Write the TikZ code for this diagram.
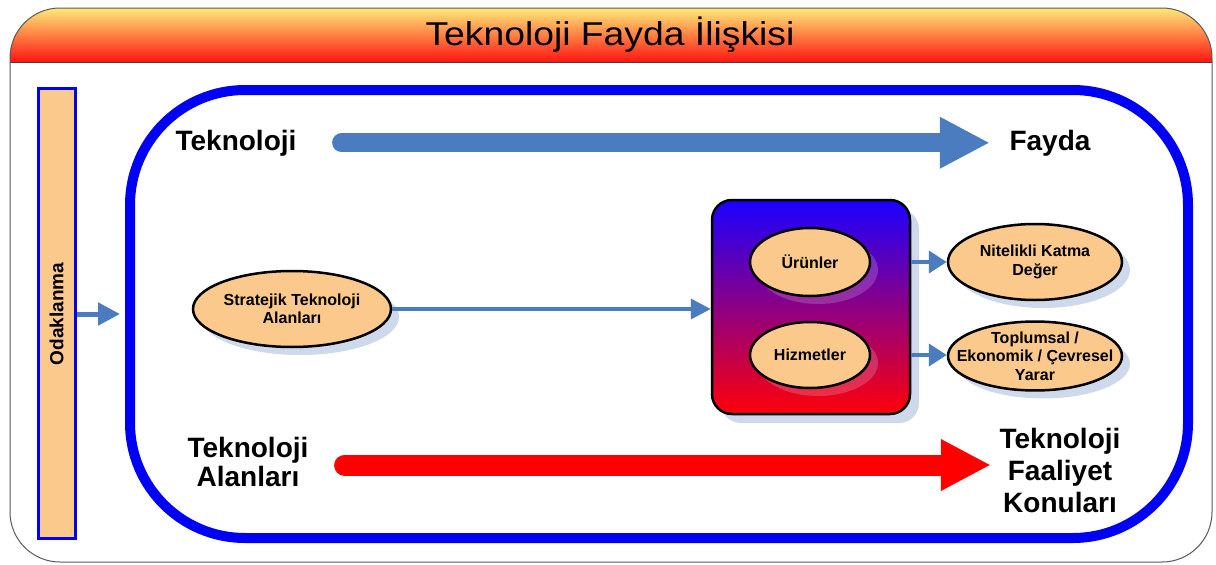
\documentclass[tikz,border=0pt]{standalone}
\usepackage{fontspec}
\setmainfont{Liberation Sans}
\newfontfamily\titlefont[FakeStretch=1.13]{Liberation Sans}
\usetikzlibrary{arrows.meta,shapes.geometric,shadows}

\definecolor{peach}{HTML}{FBC98B}
\definecolor{steel}{HTML}{4A7CBF}
\definecolor{frameblue}{HTML}{0000F5}
\definecolor{shadowblue}{HTML}{C9D6EA}
\definecolor{banneryellow}{HTML}{FFEA78}
\definecolor{bannerorange}{HTML}{FF9C42}
\definecolor{bannerred}{HTML}{FF1410}
\definecolor{boxblue}{HTML}{1A00FF}
\definecolor{boxpurple}{HTML}{840083}
\definecolor{boxred}{HTML}{FF0008}
\definecolor{arrowred}{HTML}{FF0000}

\tikzset{
  ovalbase/.style={ellipse, draw=black, line width=2.5pt, fill=peach, inner sep=0pt,
    align=center, font=\fontsize{16}{18.5}\selectfont\bfseries},
  oval/.style={ovalbase, drop shadow={shadow xshift=8pt, shadow yshift=-8pt, fill=shadowblue, opacity=0.9}},
  inoval/.style={ovalbase, drop shadow={shadow xshift=8pt, shadow yshift=-8pt, fill=white, opacity=0.18}},
  biglabel/.style={font=\fontsize{28}{29}\selectfont\bfseries, align=center, inner sep=0pt},
  link/.style={draw=steel, line width=4pt, -{Triangle[length=18pt,width=22pt]}},
  bigarrow/.style={line width=19pt, line cap=round, -{Triangle[length=50pt,width=48pt]}},
}

\begin{document}
\begin{tikzpicture}[x=1pt,y=-1pt]
\useasboundingbox (0,0) rectangle (1216,565);

% outer panel with gradient title bar
\fill[white, rounded corners=50pt] (10,8) rectangle (1212,562);
\begin{scope}
  \clip[rounded corners=50pt] (10,8) rectangle (1212,562);
  \shade[top color=banneryellow, middle color=bannerorange, bottom color=bannerred]
    (10,8) rectangle (1212,62);
\end{scope}
\draw[black!75, line width=1pt] (10,62) -- (1212,62);
\draw[black!65, line width=1pt, rounded corners=50pt] (10,8) rectangle (1212,562);
\node[font=\titlefont\fontsize{33}{38}\selectfont, anchor=base, inner sep=0pt] (title) at (610,45) {Teknoloji Fayda İlişkisi};

% large blue frame
\node[draw=frameblue, line width=10pt, rounded corners=115pt, minimum width=1058pt,
      minimum height=448pt, inner sep=0pt] (frame) at (659,314) {};

% focus bar
\node[draw=frameblue, line width=3pt, fill=peach, minimum width=37pt, minimum height=450pt,
      inner sep=0pt] (bar) at (56.5,313) {};
\node[rotate=90, font=\fontsize{19}{22}\selectfont\bfseries, inner sep=0pt] (focus) at (56.5,314) {Odaklanma};
\draw[draw=steel, line width=5pt, -{Triangle[length=22pt,width=22pt]}, shorten >=5pt]
  (bar.east |- 0,314) -- (frame.west |- 0,314);

% top and bottom flows
\node[biglabel, anchor=base] (tech) at (236,150) {Teknoloji};
\node[biglabel, anchor=base] (benefit) at (1050,150) {Fayda};
\draw[bigarrow, draw=steel, fill=steel, shorten <=45pt, shorten >=19.5pt] (tech.east) -- (benefit.west);

\node[biglabel] (areas) at (248,462) {Teknoloji\\Alanları};
\node[biglabel, font=\fontsize{28}{32}\selectfont\bfseries] (topics) at (1060,470) {Teknoloji\\Faaliyet\\Konuları};
\draw[bigarrow, line width=21pt, draw=arrowred, fill=arrowred, shorten <=36pt, shorten >=8.5pt]
  (areas.east |- 0,465) -- (topics.west |- 0,465);

% products and services block
\node[draw=black, line width=2.5pt, rounded corners=20pt, minimum width=198pt, minimum height=214pt,
      top color=boxblue, middle color=boxpurple, bottom color=boxred, inner sep=0pt,
      drop shadow={shadow xshift=9pt, shadow yshift=-9pt, fill=shadowblue, opacity=0.9}]
      (offer) at (811,307) {};
\node[inoval, minimum width=120pt, minimum height=68pt] (products) at (810,262) {Ürünler};
\node[inoval, minimum width=120pt, minimum height=66pt] (services) at (810,355) {Hizmetler};

% strategic areas
\node[oval, minimum width=198pt, minimum height=76pt] (strategic) at (292,309) {Stratejik Teknoloji\\Alanları};
\draw[draw=steel, line width=3.5pt, -{Triangle[length=20pt,width=20pt]}]
  (strategic.east) -- (strategic.east -| offer.west);

% outcomes
\node[oval, minimum width=174pt, minimum height=76pt] (gain) at (1035,262) {Nitelikli Katma\\Değer};
\node[oval, inner xsep=-20pt, minimum width=174pt, minimum height=68pt] (impact) at (1035,356) {Toplumsal /\\Ekonomik / Çevresel\\Yarar};
\draw[link] (products -| offer.east) -- (products -| gain.west);
\draw[link] (services -| offer.east) -- (services -| impact.west);
\end{tikzpicture}
\end{document}
